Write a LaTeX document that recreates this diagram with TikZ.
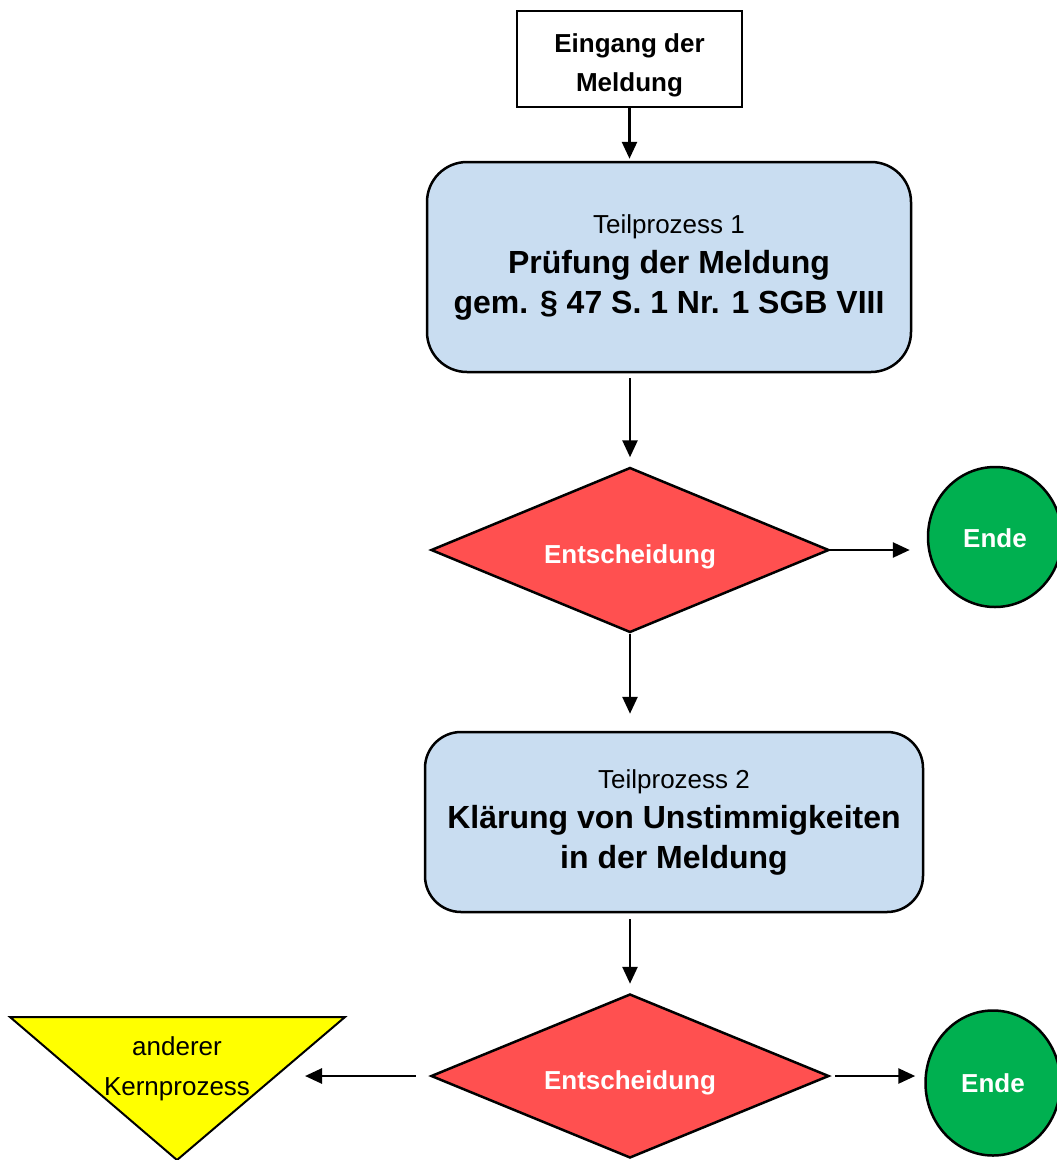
\documentclass[tikz,border=0pt]{standalone}
\usepackage{fontspec}
\setmainfont{Liberation Sans}
\usetikzlibrary{shapes.geometric,arrows.meta}
\definecolor{boxblue}{HTML}{C9DDF1}
\definecolor{decred}{HTML}{FF5050}
\definecolor{endgreen}{HTML}{00B050}
\definecolor{kernyellow}{HTML}{FFFF00}
\begin{document}
\begin{tikzpicture}[x=1pt,y=-1pt,
  line width=2.5pt,
  startbox/.style={draw, line width=2pt, fill=white, minimum width=225pt, minimum height=96pt, inner sep=0pt},
  starttext/.style={align=center, inner sep=0pt, font=\fontsize{26}{39}\selectfont\bfseries},
  procbox/.style={draw, fill=boxblue, rounded corners=40pt, inner sep=0pt, align=center, font=\fontsize{32}{40}\selectfont\bfseries},
  decbox/.style={draw, diamond, fill=decred, aspect=2.41, minimum width=398pt, minimum height=165pt, inner sep=0pt, text=white, text height=32pt, text depth=6pt, font=\fontsize{26}{30}\selectfont\bfseries},
  endbox/.style={draw, ellipse, fill=endgreen, inner sep=0pt, text=white, font=\fontsize{26}{30}\selectfont\bfseries},
  flow/.style={-{Triangle[length=17pt,width=15pt]}, line width=2.7pt}
]
\useasboundingbox (0,0) rectangle (1057,1160);

\node[startbox, label={[starttext, yshift=-6pt]center:Eingang der\\Meldung}] (start) at (629.5,59) {};

\node[procbox, minimum width=484pt, minimum height=210pt] (p1) at (669,267)
  {{\fontsize{26}{40}\selectfont\mdseries Teilprozess 1}\\Prüfung der Meldung\\gem. § 47 S. 1 Nr. 1 SGB VIII};

\node[decbox] (d1) at (630,550) {Entscheidung};
\node[endbox, minimum width=134pt, minimum height=140pt, text height=26pt, text depth=6pt] (e1) at (995,537) {Ende};

\node[procbox, rounded corners=36pt, minimum width=498pt, minimum height=180pt] (p2) at (674,822)
  {{\fontsize{26}{40}\selectfont\mdseries Teilprozess 2}\\Klärung von Unstimmigkeiten\\in der Meldung};

\node[decbox, minimum height=164pt] (d2) at (630,1076) {Entscheidung};
\node[endbox, minimum width=135pt, minimum height=145pt] (e2) at (993,1083) {Ende};

\draw[line width=2pt, fill=kernyellow] (10,1017) -- (345,1017) -- (177,1160) -- cycle;
\node[align=center, inner sep=0pt, font=\fontsize{26}{40}\selectfont] (k) at (177,1069) {anderer\\Kernprozess};
\coordinate (kR) at (276,1076);

\draw[flow, shorten >=2pt] (start.south) -- (start.south |- p1.north);
\draw[flow, shorten <=5pt, shorten >=9pt] (p1.south -| d1.north) -- (d1.north);
\draw[flow, shorten >=17pt] (d1.east) -- (d1.east -| e1.west);
\draw[flow, shorten >=17pt] (d1.south) -- (d1.south |- p2.north);
\draw[flow, shorten <=6pt, shorten >=9pt] (p2.south -| d2.north) -- (d2.north);
\draw[flow, shorten <=5pt, shorten >=9pt] (d2.east) -- (d2.east -| e2.west);
\draw[flow, shorten <=14pt, shorten >=29pt] (d2.west) -- (kR);
\end{tikzpicture}
\end{document}
